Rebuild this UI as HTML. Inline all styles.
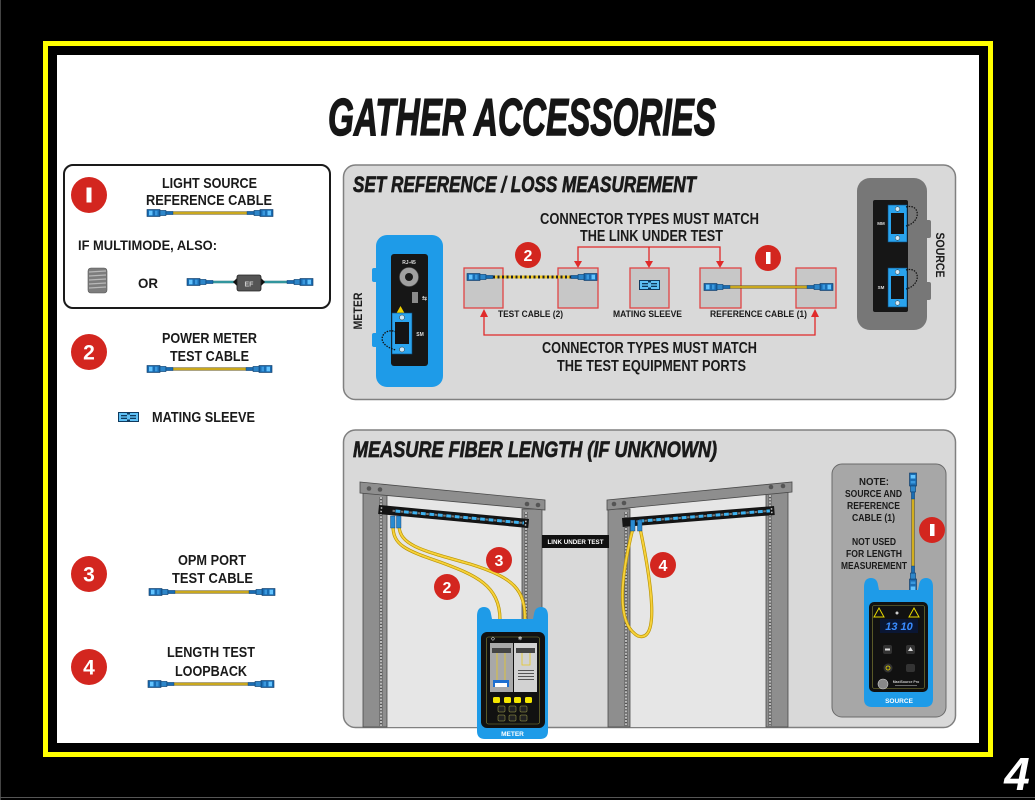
<!DOCTYPE html>
<html><head><meta charset="utf-8"><style>
html,body{margin:0;padding:0;background:#000;}
svg{display:block}
text{font-family:"Liberation Sans",Arial,sans-serif;font-weight:bold;}
</style></head><body>
<svg width="1035" height="800" viewBox="0 0 1035 800" xmlns="http://www.w3.org/2000/svg">
<defs>
<g id="cn">
 <rect x="0" y="-3.5" width="13" height="7" fill="#1a6db3" stroke="#0b3560" stroke-width="0.6"/>
 <rect x="2" y="-2.3" width="3.5" height="4.6" fill="#63c4ff"/>
 <rect x="8" y="-2.3" width="2.5" height="4.6" fill="#3a98dd"/>
 <rect x="13" y="-2.6" width="6" height="5.2" fill="#2e86c9" stroke="#0b3560" stroke-width="0.5"/>
 <rect x="19" y="-1.6" width="7" height="3.2" fill="#1a6db3" stroke="#0b3560" stroke-width="0.4"/>
</g>
<g id="sl">
 <rect x="0" y="0" width="21" height="10" fill="#0f3a5e"/>
 <rect x="1" y="1" width="8" height="8" fill="#5ec0f5"/>
 <rect x="12" y="1" width="8" height="8" fill="#5ec0f5"/>
 <rect x="9" y="2.5" width="3" height="5" fill="#5ec0f5"/>
 <rect x="3" y="3" width="6" height="1.3" fill="#0f3a5e"/>
 <rect x="3" y="5.7" width="6" height="1.3" fill="#0f3a5e"/>
 <rect x="12" y="3" width="6" height="1.3" fill="#0f3a5e"/>
 <rect x="12" y="5.7" width="6" height="1.3" fill="#0f3a5e"/>
</g>
<pattern id="ports" x="0" y="0" width="8.5" height="3" patternUnits="userSpaceOnUse">
 <rect x="0" y="0" width="4.8" height="3" fill="#3db2f0"/>
 <rect x="5.3" y="0.5" width="2.6" height="2" fill="#7a7a7a"/>
</pattern>
</defs>

<!-- frame -->
<rect x="0" y="0" width="1035" height="800" fill="#000"/>
<line x1="0.5" y1="0" x2="0.5" y2="800" stroke="#444" stroke-width="1"/>
<line x1="0" y1="797.5" x2="1035" y2="797.5" stroke="#555" stroke-width="1"/>
<rect x="45.5" y="43.5" width="945" height="711" fill="none" stroke="#ffff00" stroke-width="5"/>
<rect x="57" y="55" width="922" height="688" fill="#fff"/>
<text x="1017" y="790" font-size="46" font-style="italic" fill="#fff" text-anchor="middle">4</text>

<!-- title -->
<text x="328" y="135" font-size="52" font-style="italic" fill="#161616" stroke="#161616" stroke-width="1.4" textLength="388" lengthAdjust="spacingAndGlyphs">GATHER ACCESSORIES</text>

<!-- left box 1 -->
<rect x="64" y="165" width="266" height="143" rx="9" fill="#fff" stroke="#1a1a1a" stroke-width="2"/>
<circle cx="89" cy="195" r="18" fill="#d3261f"/>
<rect x="86.5" y="187.5" width="5" height="15" fill="#fff"/>
<text x="209.5" y="188" font-size="15" fill="#1a1a1a" text-anchor="middle" textLength="95" lengthAdjust="spacingAndGlyphs">LIGHT SOURCE</text>
<text x="209" y="205" font-size="15" fill="#1a1a1a" text-anchor="middle" textLength="126" lengthAdjust="spacingAndGlyphs">REFERENCE CABLE</text>
<g>
 <line x1="173" y1="213" x2="247" y2="213" stroke="#5a4a08" stroke-width="3"/>
 <line x1="173" y1="213" x2="247" y2="213" stroke="#f0c824" stroke-width="1.6"/>
 <use href="#cn" transform="translate(147,213)"/>
 <use href="#cn" transform="translate(273,213) scale(-1,1)"/>
</g>
<text x="78" y="250" font-size="14" fill="#1a1a1a" textLength="139" lengthAdjust="spacingAndGlyphs">IF MULTIMODE, ALSO:</text>
<!-- coil -->
<rect x="88" y="268" width="19" height="25" rx="3" fill="#7d7d7d" stroke="#555" stroke-width="0.6"/>
<g stroke="#b8b8b8" stroke-width="1.2">
 <line x1="89" y1="272" x2="106" y2="271"/>
 <line x1="89" y1="276" x2="106" y2="275"/>
 <line x1="89" y1="280" x2="106" y2="279"/>
 <line x1="89" y1="284" x2="106" y2="283"/>
 <line x1="89" y1="288" x2="106" y2="287"/>
</g>
<text x="138" y="288" font-size="14" fill="#1a1a1a" textLength="20" lengthAdjust="spacingAndGlyphs">OR</text>
<!-- EF cable -->
<line x1="213" y1="282" x2="287" y2="282" stroke="#1d6c74" stroke-width="2.6"/>
<line x1="213" y1="282" x2="287" y2="282" stroke="#3fb0b8" stroke-width="1.2"/>
<use href="#cn" transform="translate(187,282)"/>
<use href="#cn" transform="translate(313,282) scale(-1,1)"/>
<polygon points="233,282 237,278 237,286" fill="#111"/>
<polygon points="265,282 261,278 261,286" fill="#111"/>
<rect x="237" y="275" width="24" height="16" rx="2" fill="#555" stroke="#222" stroke-width="0.8"/>
<text x="249" y="286.5" font-size="7" fill="#ccc" text-anchor="middle">EF</text>

<!-- left 2 -->
<circle cx="89" cy="352" r="18" fill="#d3261f"/>
<text x="89" y="359.5" font-size="21" fill="#fff" text-anchor="middle">2</text>
<text x="209.5" y="343" font-size="15" fill="#1a1a1a" text-anchor="middle" textLength="95" lengthAdjust="spacingAndGlyphs">POWER METER</text>
<text x="209.5" y="361" font-size="15" fill="#1a1a1a" text-anchor="middle" textLength="79" lengthAdjust="spacingAndGlyphs">TEST CABLE</text>
<line x1="173" y1="369" x2="246" y2="369" stroke="#5a4a08" stroke-width="3"/>
<line x1="173" y1="369" x2="246" y2="369" stroke="#f0c824" stroke-width="1.6"/>
<use href="#cn" transform="translate(147,369)"/>
<use href="#cn" transform="translate(272,369) scale(-1,1)"/>

<use href="#sl" transform="translate(118,412)"/>
<text x="152" y="422" font-size="14.5" fill="#1a1a1a" textLength="103" lengthAdjust="spacingAndGlyphs">MATING SLEEVE</text>

<!-- left 3 -->
<circle cx="89" cy="574" r="18" fill="#d3261f"/>
<text x="89" y="581.5" font-size="21" fill="#fff" text-anchor="middle">3</text>
<text x="212" y="565" font-size="15" fill="#1a1a1a" text-anchor="middle" textLength="68" lengthAdjust="spacingAndGlyphs">OPM PORT</text>
<text x="212.5" y="583" font-size="15" fill="#1a1a1a" text-anchor="middle" textLength="81" lengthAdjust="spacingAndGlyphs">TEST CABLE</text>
<line x1="175" y1="592" x2="249" y2="592" stroke="#5a4a08" stroke-width="3"/>
<line x1="175" y1="592" x2="249" y2="592" stroke="#f0c824" stroke-width="1.6"/>
<use href="#cn" transform="translate(149,592)"/>
<use href="#cn" transform="translate(275,592) scale(-1,1)"/>

<!-- left 4 -->
<circle cx="89" cy="667" r="18" fill="#d3261f"/>
<text x="89" y="674.5" font-size="21" fill="#fff" text-anchor="middle">4</text>
<text x="211" y="657" font-size="15" fill="#1a1a1a" text-anchor="middle" textLength="88" lengthAdjust="spacingAndGlyphs">LENGTH TEST</text>
<text x="211" y="676" font-size="15" fill="#1a1a1a" text-anchor="middle" textLength="72" lengthAdjust="spacingAndGlyphs">LOOPBACK</text>
<line x1="174" y1="684" x2="248" y2="684" stroke="#5a4a08" stroke-width="3"/>
<line x1="174" y1="684" x2="248" y2="684" stroke="#f0c824" stroke-width="1.6"/>
<use href="#cn" transform="translate(148,684)"/>
<use href="#cn" transform="translate(274,684) scale(-1,1)"/>

<!-- ================= TOP PANEL ================= -->
<rect x="343.5" y="165" width="612" height="234.5" rx="12" fill="#d9d9d9" stroke="#808080" stroke-width="1.5"/>
<text x="353" y="192" font-size="22" font-style="italic" fill="#1a1a1a" stroke="#1a1a1a" stroke-width="0.7" textLength="343" lengthAdjust="spacingAndGlyphs">SET REFERENCE / LOSS MEASUREMENT</text>

<text x="649.5" y="224" font-size="16" fill="#1a1a1a" text-anchor="middle" textLength="219" lengthAdjust="spacingAndGlyphs">CONNECTOR TYPES MUST MATCH</text>
<text x="651.5" y="241" font-size="16" fill="#1a1a1a" text-anchor="middle" textLength="143" lengthAdjust="spacingAndGlyphs">THE LINK UNDER TEST</text>
<text x="649.5" y="353" font-size="16" fill="#1a1a1a" text-anchor="middle" textLength="215" lengthAdjust="spacingAndGlyphs">CONNECTOR TYPES MUST MATCH</text>
<text x="651.5" y="371" font-size="16" fill="#1a1a1a" text-anchor="middle" textLength="189" lengthAdjust="spacingAndGlyphs">THE TEST EQUIPMENT PORTS</text>

<!-- red brackets -->
<g stroke="#e02a2a" stroke-width="1.3" fill="none">
 <polyline points="578,262 578,247 720,247 720,262"/>
 <line x1="649" y1="247" x2="649" y2="262"/>
 <polyline points="484,314 484,335 815,335 815,314"/>
</g>
<g fill="#e02a2a">
 <polygon points="574,261 582,261 578,268"/>
 <polygon points="645,261 653,261 649,268"/>
 <polygon points="716,261 724,261 720,268"/>
 <polygon points="480,317 488,317 484,309"/>
 <polygon points="811,317 819,317 815,309"/>
</g>

<!-- boxes -->
<g fill="#c7c7c7" stroke="#e04545" stroke-width="1.3">
 <rect x="464" y="268" width="39" height="40"/>
 <rect x="558" y="268" width="40" height="40"/>
 <rect x="630" y="268" width="39" height="40"/>
 <rect x="700" y="268" width="41" height="40"/>
 <rect x="796" y="268" width="40" height="40"/>
</g>
<!-- test cable 2 -->
<line x1="493" y1="277" x2="571" y2="277" stroke="#f0c824" stroke-width="3"/>
<line x1="493" y1="277" x2="571" y2="277" stroke="#222" stroke-width="3" stroke-dasharray="2 2.5"/>
<use href="#cn" transform="translate(467,277)"/>
<use href="#cn" transform="translate(597,277) scale(-1,1)"/>
<!-- mating sleeve -->
<use href="#sl" transform="translate(639,280)"/>
<!-- ref cable 1 -->
<line x1="730" y1="287" x2="807" y2="287" stroke="#5a4a08" stroke-width="3"/>
<line x1="730" y1="287" x2="807" y2="287" stroke="#f0c824" stroke-width="1.6"/>
<use href="#cn" transform="translate(704,287)"/>
<use href="#cn" transform="translate(833,287) scale(-1,1)"/>

<circle cx="528" cy="255" r="13" fill="#d3261f"/>
<text x="528" y="261" font-size="16" fill="#fff" text-anchor="middle">2</text>
<circle cx="768" cy="258" r="13" fill="#d3261f"/>
<rect x="766" y="252" width="4.5" height="12" fill="#fff"/>

<text x="530.5" y="317" font-size="9.5" fill="#1a1a1a" text-anchor="middle" textLength="65" lengthAdjust="spacingAndGlyphs">TEST CABLE (2)</text>
<text x="647.5" y="317" font-size="9.5" fill="#1a1a1a" text-anchor="middle" textLength="69" lengthAdjust="spacingAndGlyphs">MATING SLEEVE</text>
<text x="758.5" y="317" font-size="9.5" fill="#1a1a1a" text-anchor="middle" textLength="97" lengthAdjust="spacingAndGlyphs">REFERENCE CABLE (1)</text>

<!-- top meter -->
<text x="358" y="315" font-size="12" fill="#1a1a1a" text-anchor="middle" transform="rotate(-90 358 311)" textLength="37" lengthAdjust="spacingAndGlyphs">METER</text>
<rect x="372" y="268" width="8" height="14" rx="2" fill="#1e9be8"/>
<rect x="372" y="333" width="8" height="14" rx="2" fill="#1e9be8"/>
<rect x="376" y="235" width="67" height="152" rx="11" fill="#1e9be8"/>
<rect x="391" y="254" width="37" height="112" rx="3" fill="#161616"/>
<text x="409" y="264" font-size="5" fill="#ddd" text-anchor="middle">RJ-45</text>
<circle cx="409" cy="277" r="9.5" fill="#a0a0a0" stroke="#555" stroke-width="0.6"/>
<circle cx="409" cy="277" r="4" fill="#1a1a1a"/>
<rect x="412" y="292" width="6" height="11" fill="#8a8a8a"/>
<text x="422" y="300" font-size="6" fill="#ddd">⇆</text>
<polygon points="396,314 405,314 400.5,306" fill="#f2d200"/>
<rect x="392" y="313" width="20" height="41" fill="#2aa4ee" stroke="#0c4a7a" stroke-width="0.6"/>
<rect x="395" y="322" width="14" height="22" fill="#141414"/>
<circle cx="402" cy="317.5" r="2.5" fill="#cfe9f7" stroke="#333" stroke-width="0.5"/>
<circle cx="402" cy="349.5" r="2.5" fill="#cfe9f7" stroke="#333" stroke-width="0.5"/>
<text x="420" y="336" font-size="5" fill="#ddd" text-anchor="middle">SM</text>
<path d="M396,332 C384,326 372,344 396,350" fill="none" stroke="#111" stroke-width="1.3" stroke-dasharray="1.5 1.2"/>

<!-- top source -->
<rect x="923" y="220" width="8" height="18" rx="2" fill="#777"/>
<rect x="923" y="282" width="8" height="18" rx="2" fill="#777"/>
<rect x="857" y="178" width="70" height="152" rx="13" fill="#777"/>
<rect x="873" y="200" width="35" height="112" rx="2" fill="#161616"/>
<rect x="888" y="205" width="19" height="37" fill="#2aa4ee" stroke="#0c4a7a" stroke-width="0.6"/>
<rect x="891" y="213" width="13" height="21" fill="#141414"/>
<circle cx="897.5" cy="209" r="2.3" fill="#cfe9f7" stroke="#333" stroke-width="0.5"/>
<circle cx="897.5" cy="238" r="2.3" fill="#cfe9f7" stroke="#333" stroke-width="0.5"/>
<rect x="888" y="268" width="19" height="39" fill="#2aa4ee" stroke="#0c4a7a" stroke-width="0.6"/>
<rect x="891" y="276" width="13" height="23" fill="#141414"/>
<circle cx="897.5" cy="272" r="2.3" fill="#cfe9f7" stroke="#333" stroke-width="0.5"/>
<circle cx="897.5" cy="303" r="2.3" fill="#cfe9f7" stroke="#333" stroke-width="0.5"/>
<text x="881" y="225" font-size="4.5" fill="#ddd" text-anchor="middle">MM</text>
<text x="881" y="289" font-size="4.5" fill="#ddd" text-anchor="middle">SM</text>
<path d="M906,207 C920,203 922,222 906,226" fill="none" stroke="#111" stroke-width="1.2" stroke-dasharray="1.5 1.2"/>
<path d="M906,270 C920,266 922,285 906,289" fill="none" stroke="#111" stroke-width="1.2" stroke-dasharray="1.5 1.2"/>
<text x="940" y="259" font-size="12" fill="#1a1a1a" text-anchor="middle" transform="rotate(90 940 255)" textLength="45" lengthAdjust="spacingAndGlyphs">SOURCE</text>

<!-- ================= BOTTOM PANEL ================= -->
<rect x="343.5" y="430" width="612" height="297.5" rx="12" fill="#d9d9d9" stroke="#808080" stroke-width="1.5"/>
<text x="353" y="457" font-size="22" font-style="italic" fill="#1a1a1a" stroke="#1a1a1a" stroke-width="0.7" textLength="364" lengthAdjust="spacingAndGlyphs">MEASURE FIBER LENGTH (IF UNKNOWN)</text>

<!-- left rack -->
<polygon points="387,495.5 522,508 522,727 387,727" fill="#e6e6e6"/>
<rect x="363" y="493" width="24" height="234" fill="#8e8e8e" stroke="#4a4a4a" stroke-width="0.8"/>
<rect x="522" y="509" width="20" height="218" fill="#8e8e8e" stroke="#4a4a4a" stroke-width="0.8"/>
<line x1="381" y1="497" x2="381" y2="726" stroke="#555" stroke-width="3"/>
<line x1="381" y1="497" x2="381" y2="726" stroke="#d4d4d4" stroke-width="1.6" stroke-dasharray="2 1.2"/>
<line x1="526" y1="512" x2="526" y2="726" stroke="#555" stroke-width="3"/>
<line x1="526" y1="512" x2="526" y2="726" stroke="#d4d4d4" stroke-width="1.6" stroke-dasharray="2 1.2"/>
<polygon points="360,482 545,500 545,510 360,493" fill="#8e8e8e" stroke="#4a4a4a" stroke-width="0.8"/>
<g fill="#555"><circle cx="369" cy="488.5" r="2.3"/><circle cx="380" cy="489.5" r="2.3"/><circle cx="527" cy="504" r="2.3"/><circle cx="538" cy="505" r="2.3"/></g>
<g transform="translate(379,505) rotate(5.33)">
 <rect x="0" y="0" width="150.7" height="9" fill="#141414"/>
 <rect x="14" y="3" width="132" height="3" fill="url(#ports)"/>
 <rect x="2" y="2" width="1.5" height="1.5" fill="#ccc"/><rect x="2" y="5.5" width="1.5" height="1.5" fill="#ccc"/>
 <rect x="147" y="2" width="1.5" height="1.5" fill="#ccc"/><rect x="147" y="5.5" width="1.5" height="1.5" fill="#ccc"/>
</g>

<!-- right rack -->
<polygon points="630,508 766,494.5 766,727 630,727" fill="#e6e6e6"/>
<rect x="608" y="509" width="22" height="218" fill="#8e8e8e" stroke="#4a4a4a" stroke-width="0.8"/>
<rect x="766" y="491" width="22" height="236" fill="#8e8e8e" stroke="#4a4a4a" stroke-width="0.8"/>
<line x1="626" y1="512" x2="626" y2="726" stroke="#555" stroke-width="3"/>
<line x1="626" y1="512" x2="626" y2="726" stroke="#d4d4d4" stroke-width="1.6" stroke-dasharray="2 1.2"/>
<line x1="770" y1="495" x2="770" y2="726" stroke="#555" stroke-width="3"/>
<line x1="770" y1="495" x2="770" y2="726" stroke="#d4d4d4" stroke-width="1.6" stroke-dasharray="2 1.2"/>
<polygon points="607,500 792,482 792,492 607,510" fill="#8e8e8e" stroke="#4a4a4a" stroke-width="0.8"/>
<g fill="#555"><circle cx="614" cy="504" r="2.3"/><circle cx="624" cy="503" r="2.3"/><circle cx="771" cy="487" r="2.3"/><circle cx="783" cy="486" r="2.3"/></g>
<g transform="translate(622,518) rotate(-4.5)">
 <rect x="0" y="0" width="152.5" height="9" fill="#141414"/>
 <rect x="14" y="3" width="134" height="3" fill="url(#ports)"/>
 <rect x="149" y="2" width="1.5" height="1.5" fill="#ccc"/><rect x="149" y="5.5" width="1.5" height="1.5" fill="#ccc"/>
</g>

<!-- link under test -->
<rect x="542" y="535" width="67" height="13" fill="#111"/>
<text x="575.5" y="544" font-size="6.5" fill="#fff" text-anchor="middle" textLength="56" lengthAdjust="spacingAndGlyphs">LINK UNDER TEST</text>

<!-- cables left rack -->
<g fill="none" stroke-linecap="round">
 <path d="M393,526 C393,545 405,550 440,562 C475,575 500,585 500,620" stroke="#b89400" stroke-width="3.2"/>
 <path d="M393,526 C393,545 405,550 440,562 C475,575 500,585 500,620" stroke="#f7d13a" stroke-width="1.9"/>
 <path d="M399,526 C400,545 420,550 470,564 C515,578 525,590 525,620" stroke="#b89400" stroke-width="3.2"/>
 <path d="M399,526 C400,545 420,550 470,564 C515,578 525,590 525,620" stroke="#f7d13a" stroke-width="1.9"/>
 <path d="M633,528 C625,560 612,622 638,636 C657,642 655,600 640,528" stroke="#b89400" stroke-width="3.2"/>
 <path d="M633,528 C625,560 612,622 638,636 C657,642 655,600 640,528" stroke="#f7d13a" stroke-width="1.9"/>
</g>
<rect x="390.5" y="516" width="4.5" height="12" fill="#2a8ad0" stroke="#0b3560" stroke-width="0.4"/>
<rect x="396.5" y="516" width="4.5" height="12" fill="#2a8ad0" stroke="#0b3560" stroke-width="0.4"/>
<rect x="630.5" y="520" width="4.5" height="11" fill="#2a8ad0" stroke="#0b3560" stroke-width="0.4"/>
<rect x="637.5" y="520" width="4.5" height="11" fill="#2a8ad0" stroke="#0b3560" stroke-width="0.4"/>

<circle cx="499" cy="560" r="13" fill="#d3261f"/>
<text x="499" y="566" font-size="16" fill="#fff" text-anchor="middle">3</text>
<circle cx="447" cy="587" r="13" fill="#d3261f"/>
<text x="447" y="593" font-size="16" fill="#fff" text-anchor="middle">2</text>
<circle cx="663" cy="565" r="13" fill="#d3261f"/>
<text x="663" y="571" font-size="16" fill="#fff" text-anchor="middle">4</text>

<!-- bottom meter -->
<path d="M477,616 Q477,607 484,607 Q490,607 491,614 L492,619 L533,619 L534,614 Q535,607 541,607 Q548,607 548,616 L548,731 Q548,739 540,739 L485,739 Q477,739 477,731 Z" fill="#1e9be8"/>
<rect x="481" y="632" width="64" height="96" rx="6" fill="#111"/>
<rect x="486.5" y="637" width="53" height="87" rx="2" fill="none" stroke="#8a8a3a" stroke-width="0.6"/>
<text x="491" y="640" font-size="5" fill="#ddd">◇</text>
<text x="518" y="640" font-size="5" fill="#ddd">✲</text>
<rect x="490" y="643" width="23" height="49" fill="#a8a8a8"/>
<rect x="514" y="643" width="23" height="49" fill="#d2d2d2"/>
<rect x="492" y="648" width="19" height="5" fill="#444"/>
<rect x="516" y="648" width="19" height="5" fill="#444"/>
<line x1="497" y1="653" x2="497" y2="680" stroke="#e8c820" stroke-width="0.8"/>
<line x1="505" y1="653" x2="505" y2="680" stroke="#e8c820" stroke-width="0.8"/>
<polyline points="522,653 522,665 530,665 530,653" fill="none" stroke="#e8c820" stroke-width="0.8"/>
<rect x="493" y="680" width="16" height="7" fill="#1e6fd0"/>
<rect x="495" y="683" width="12" height="4" fill="#fff"/>
<g fill="#555"><rect x="518" y="670" width="16" height="1"/><rect x="518" y="673" width="16" height="1"/><rect x="518" y="676" width="16" height="1"/><rect x="518" y="679" width="16" height="1"/></g>
<g fill="#f3e600"><rect x="493" y="697" width="7" height="6" rx="1.5"/><rect x="504" y="697" width="7" height="6" rx="1.5"/><rect x="514" y="697" width="7" height="6" rx="1.5"/><rect x="525" y="697" width="7" height="6" rx="1.5"/></g>
<g fill="#222" stroke="#a8a84a" stroke-width="0.5">
 <rect x="498" y="706" width="7" height="6" rx="1"/><rect x="509" y="706" width="7" height="6" rx="1"/><rect x="520" y="706" width="7" height="6" rx="1"/>
 <rect x="498" y="715" width="7" height="6" rx="1"/><rect x="509" y="715" width="7" height="6" rx="1"/><rect x="520" y="715" width="7" height="6" rx="1"/>
</g>
<text x="512.5" y="736" font-size="6.5" fill="#fff" text-anchor="middle">METER</text>

<!-- note box -->
<rect x="832" y="464" width="114" height="253" rx="10" fill="#a7a7a7" stroke="#6a6a6a" stroke-width="1"/>
<g font-size="10.5" fill="#1a1a1a" text-anchor="middle">
 <text x="874" y="485" textLength="30" lengthAdjust="spacingAndGlyphs">NOTE:</text>
 <text x="873.5" y="497" textLength="57" lengthAdjust="spacingAndGlyphs">SOURCE AND</text>
 <text x="873.5" y="509" textLength="53" lengthAdjust="spacingAndGlyphs">REFERENCE</text>
 <text x="873.5" y="521" textLength="43" lengthAdjust="spacingAndGlyphs">CABLE (1)</text>
 <text x="874" y="545" textLength="44" lengthAdjust="spacingAndGlyphs">NOT USED</text>
 <text x="874" y="557" textLength="56" lengthAdjust="spacingAndGlyphs">FOR LENGTH</text>
 <text x="874" y="569" textLength="66" lengthAdjust="spacingAndGlyphs">MEASUREMENT</text>
</g>
<line x1="913" y1="498" x2="913" y2="566" stroke="#5a4a08" stroke-width="3"/>
<line x1="913" y1="498" x2="913" y2="566" stroke="#f0c824" stroke-width="1.6"/>
<use href="#cn" transform="translate(913,473) rotate(90)"/>
<use href="#cn" transform="translate(913,592) rotate(-90)"/>
<circle cx="932" cy="530" r="13" fill="#d3261f"/>
<rect x="930" y="524" width="4.5" height="12" fill="#fff"/>

<!-- bottom source -->
<path d="M864,587 Q864,578 871,578 Q877,578 878,585 L879,590 L918,590 L919,585 Q920,578 926,578 Q933,578 933,587 L933,699 Q933,707 925,707 L872,707 Q864,707 864,699 Z" fill="#1e9be8"/>
<rect x="869" y="602" width="59" height="90" rx="5" fill="#111"/>
<rect x="872.5" y="605.5" width="52" height="83" rx="2" fill="none" stroke="#8a8a3a" stroke-width="0.6"/>
<polygon points="874,617 884,617 879,608" fill="none" stroke="#e8d800" stroke-width="1"/>
<polygon points="909,617 919,617 914,608" fill="none" stroke="#e8d800" stroke-width="1"/>
<circle cx="897" cy="613" r="1.5" fill="#ccc"/>
<rect x="880" y="619" width="38" height="14" fill="#0a1633"/>
<text x="899" y="630" font-size="11" font-style="italic" fill="#3a8cff" text-anchor="middle" font-weight="normal">13 10</text>
<rect x="883" y="645" width="9" height="9" rx="2" fill="#333"/>
<rect x="906" y="645" width="9" height="9" rx="2" fill="#333"/>
<rect x="885" y="648.5" width="5" height="2" fill="#ddd"/>
<polygon points="908,651 913,651 910.5,647" fill="#ddd"/>
<circle cx="888" cy="668" r="4.5" fill="#333"/>
<circle cx="888" cy="668" r="2" fill="none" stroke="#e8d800" stroke-width="0.8"/>
<rect x="906" y="664" width="9" height="8" rx="2" fill="#333"/>
<circle cx="883" cy="684" r="5" fill="#888" stroke="#ccc" stroke-width="0.6"/>
<text x="906" y="683" font-size="3.5" fill="#ccc" text-anchor="middle">MaxiSource Pro</text>
<rect x="895" y="685" width="22" height="0.6" fill="#aaa"/>
<text x="899" y="703" font-size="6.5" fill="#fff" text-anchor="middle">SOURCE</text>
</svg>
</body></html>
